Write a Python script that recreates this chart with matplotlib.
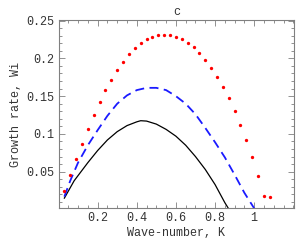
import matplotlib
matplotlib.use("Agg")
import matplotlib.pyplot as plt
from matplotlib.ticker import MultipleLocator, FixedLocator

# ---- data ----
red_k = [0.03 * i for i in range(1, 37)]
red_w = [0.0240, 0.0452, 0.0664, 0.0871, 0.1066, 0.1255, 0.1419, 0.1578, 0.1719,
         0.1843, 0.1957, 0.2055, 0.2134, 0.2201, 0.2254, 0.2284, 0.2307, 0.2315,
         0.2308, 0.2288, 0.2254, 0.2209, 0.2148, 0.2068, 0.1979, 0.1874, 0.1754,
         0.1622, 0.1472, 0.1304, 0.1119, 0.0916, 0.0691, 0.0443, 0.0174, 0.0161]

blue_k = [0.03, 0.06, 0.10, 0.15, 0.20, 0.25, 0.30, 0.35, 0.40, 0.45, 0.50,
          0.55, 0.60, 0.65, 0.70, 0.75, 0.80, 0.85, 0.90, 0.95, 1.00]
blue_w = [0.017, 0.038, 0.062, 0.085, 0.105, 0.124, 0.140, 0.151, 0.158, 0.161, 0.161,
          0.158, 0.150, 0.140, 0.126, 0.108, 0.089, 0.069, 0.046, 0.022, 0.0015]

black_k = [0.03, 0.08, 0.15, 0.20, 0.25, 0.30, 0.35, 0.40, 0.42, 0.45, 0.50,
           0.55, 0.60, 0.65, 0.70, 0.75, 0.80, 0.85, 0.868]
black_w = [0.015, 0.038, 0.062, 0.078, 0.092, 0.103, 0.111, 0.116, 0.1175, 0.117, 0.113,
           0.106, 0.097, 0.085, 0.070, 0.053, 0.033, 0.009, 0.0015]

title = "c"
xlabel = "Wave-number, K"
ylabel = "Growth rate, Wi"
xticks = [0.2, 0.4, 0.6, 0.8, 1.0]
xticklabels = ["0.2", "0.4", "0.6", "0.8", "1"]
yticks = [0.05, 0.1, 0.15, 0.2, 0.25]
yticklabels = ["0.05", "0.1", "0.15", "0.2", "0.25"]

plt.rcParams['font.family'] = ['Liberation Mono', 'DejaVu Sans Mono']

fig = plt.figure(figsize=(3.0, 2.4), dpi=100)
ax = fig.add_axes([0.195, 0.132, 0.786, 0.783])

ax.plot(black_k, black_w, color='black', lw=0.9, clip_on=True)
ax.plot(blue_k, blue_w, color='#1a1aff', lw=1.3, dashes=(5, 3), clip_on=True)
ax.plot(red_k, red_w, 'o', color='#ff0000', ms=2.4, mew=0, clip_on=True)

ax.set_xlim(0, 1.205)
ax.set_ylim(0.0015, 0.2503)

ax.set_xticks(xticks)
ax.set_xticklabels(xticklabels)
ax.set_yticks(yticks)
ax.set_yticklabels(yticklabels)
ax.xaxis.set_minor_locator(MultipleLocator(0.05))
ax.yaxis.set_minor_locator(MultipleLocator(0.01))

ax.tick_params(which='both', direction='in', top=True, right=True,
               colors='#808080', labelcolor='#333333', labelsize=8.5, width=0.6)
ax.tick_params(which='major', length=4, pad=3)
ax.tick_params(which='minor', length=2)
for s in ax.spines.values():
    s.set_color('#808080')
    s.set_linewidth(0.8)

ax.set_title(title, fontsize=8.5, color='#333333', pad=4)
ax.set_xlabel(xlabel, fontsize=8.5, color='#333333', labelpad=2)
ax.set_ylabel(ylabel, fontsize=8.5, color='#333333', labelpad=3)

fig.savefig("out.png", dpi=100)
